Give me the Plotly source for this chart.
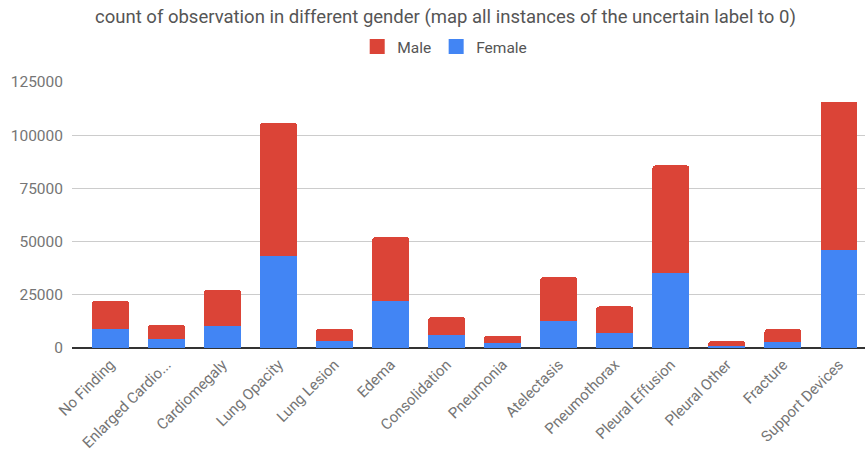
import plotly.graph_objects as go

categories = ["No Finding", "Enlarged Cardiomediastinum", "Cardiomegaly", "Lung Opacity",
              "Lung Lesion", "Edema", "Consolidation", "Pneumonia", "Atelectasis",
              "Pneumothorax", "Pleural Effusion", "Pleural Other", "Fracture", "Support Devices"]
tick_labels = ["No Finding", "Enlarged Cardio...", "Cardiomegaly", "Lung Opacity",
               "Lung Lesion", "Edema", "Consolidation", "Pneumonia", "Atelectasis",
               "Pneumothorax", "Pleural Effusion", "Pleural Other", "Fracture", "Support Devices"]
female = [9060, 4060, 10310, 43440, 3440, 22190, 5940, 2190, 12810, 7030, 35310, 940, 2810, 45940]
male = [13130, 6720, 16880, 62500, 5470, 29840, 8590, 3590, 20470, 12500, 50470, 2340, 6090, 69840]

RED = "#db4437"
BLUE = "#4285f4"

fig = go.Figure()
fig.add_trace(go.Bar(x=categories, y=female, name="Female", marker_color=BLUE,
                     marker_line_width=0, showlegend=False))
fig.add_trace(go.Bar(x=categories, y=male, name="Male", marker_color=RED,
                     marker_line_width=0, showlegend=False))
# legend entries with larger square swatches
fig.add_trace(go.Scatter(x=[None], y=[None], mode="markers", name="Male",
                         marker=dict(symbol="square", size=15, color=RED)))
fig.add_trace(go.Scatter(x=[None], y=[None], mode="markers", name="Female",
                         marker=dict(symbol="square", size=15, color=BLUE)))

fig.update_layout(
    barmode="stack",
    bargap=0.34,
    barcornerradius=3,
    width=865, height=455,
    margin=dict(l=72, r=0, t=82, b=107),
    paper_bgcolor="white", plot_bgcolor="white",
    font=dict(family="Roboto, Arial, sans-serif", color="#757575"),
    title=dict(text="count of observation in different gender (map all instances of the uncertain label to 0)",
               x=0.515, xanchor="center", xref="container", y=0.964, yanchor="middle",
               font=dict(size=18.5, color="#555555")),
    legend=dict(orientation="h", x=0.47, xanchor="center", y=1.132, yanchor="middle",
                traceorder="normal", font=dict(size=15.5, color="#555555"), itemwidth=30),
    xaxis=dict(tickmode="array", tickvals=categories, ticktext=tick_labels,
               tickangle=-45, tickfont=dict(size=15, color="#757575"),
               range=[-0.687, 13.464], showgrid=False, showline=False, ticks="",
               ticklabelstandoff=4),
    yaxis=dict(range=[0, 125000], tickvals=[0, 25000, 50000, 75000, 100000, 125000],
               ticktext=["0", "25000", "50000", "75000", "100000", "125000"],
               tickfont=dict(size=15.5, color="#757575"), gridcolor="#cccccc", gridwidth=1,
               zeroline=True, zerolinecolor="#333333", zerolinewidth=1.5,
               showline=False, ticks="", ticklabelstandoff=8),
)

fig.write_html("out.html")
